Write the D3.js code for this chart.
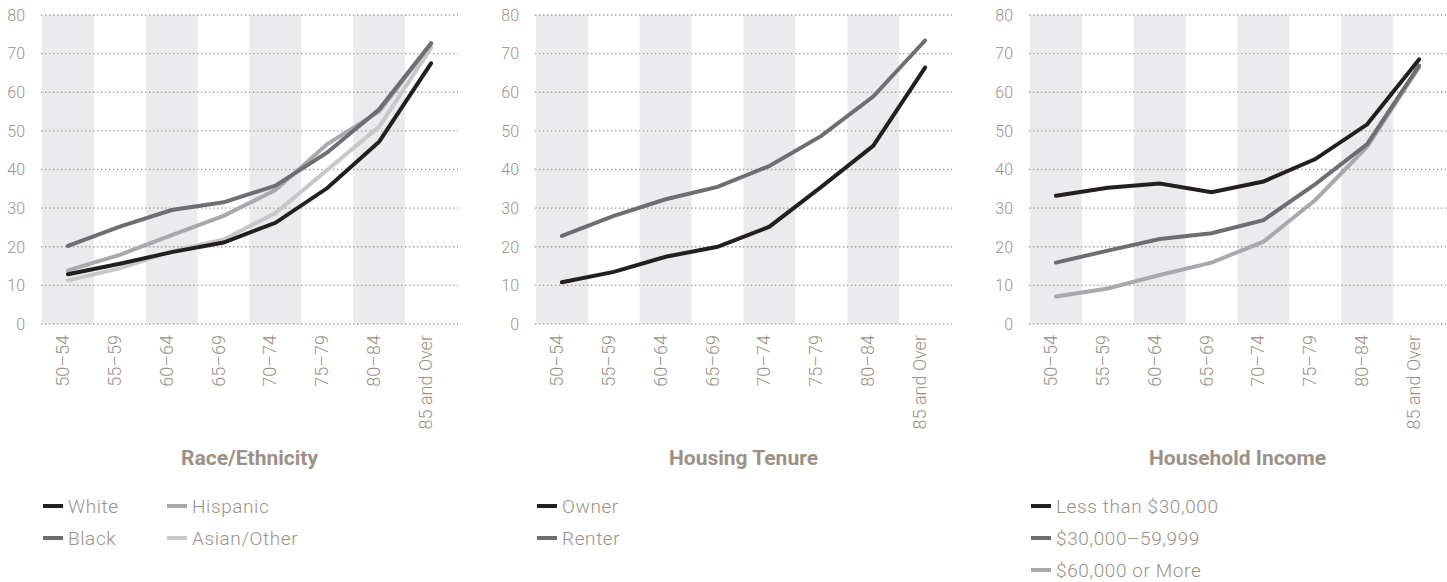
<!DOCTYPE html>
<html>
<head>
<meta charset="utf-8">
<script src="https://cdnjs.cloudflare.com/ajax/libs/d3/7.8.5/d3.min.js"></script>
<style>
  body { margin: 0; background: #fff; }
  svg text { font-family: Roboto, "Noto Sans", sans-serif; fill: #9d9086; }
  .tick-y { font-size: 16px; font-weight: 300; }
  .tick-x { font-size: 18px; font-weight: 300; }
  .title { font-size: 21px; font-weight: 700; }
  .legend { font-size: 19px; font-weight: 300; letter-spacing: 0.6px; }
</style>
</head>
<body>
<svg id="chart"></svg>
<script>
    // Data (percent)
    var ageGroups = ["50–54", "55–59", "60–64", "65–69", "70–74", "75–79", "80–84", "85 and Over"];
    var yTicks = [0, 10, 20, 30, 40, 50, 60, 70, 80];

    var raceWhite      = [12.9, 15.6, 18.6, 21.1, 26.2, 35.2, 47.2, 67.5];
    var raceBlack      = [20.2, 25.2, 29.5, 31.5, 35.8, 44.4, 55.6, 72.7];
    var raceHispanic   = [13.9, 17.9, 23.0, 28.0, 34.7, 46.6, 55.0, 72.5];
    var raceAsianOther = [11.3, 14.4, 18.8, 21.9, 28.7, 39.9, 51.1, 71.5];

    var tenureOwner  = [10.8, 13.5, 17.4, 20.0, 25.2, 35.5, 46.1, 66.4];
    var tenureRenter = [22.8, 28.0, 32.3, 35.5, 40.9, 48.7, 58.9, 73.4];

    var incomeUnder30k = [33.2, 35.3, 36.4, 34.1, 36.9, 42.7, 51.7, 68.5];
    var income30to60k  = [15.9, 19.0, 22.0, 23.5, 26.9, 36.2, 46.6, 66.9];
    var income60kPlus  = [7.1, 9.2, 12.7, 15.9, 21.3, 32.1, 45.9, 66.5];

    // Panels: series listed in legend order, col/row = legend slot
    var panels = [
        { title: "Race/Ethnicity", series: [
            { name: "White", values: raceWhite, color: "#231f20", col: 0, row: 0 },
            { name: "Black", values: raceBlack, color: "#6d6e71", col: 0, row: 1 },
            { name: "Hispanic", values: raceHispanic, color: "#a7a9ac", col: 1, row: 0 },
            { name: "Asian/Other", values: raceAsianOther, color: "#c7c8ca", col: 1, row: 1 }
        ]},
        { title: "Housing Tenure", series: [
            { name: "Owner", values: tenureOwner, color: "#231f20", col: 0, row: 0 },
            { name: "Renter", values: tenureRenter, color: "#6d6e71", col: 0, row: 1 }
        ]},
        { title: "Household Income", series: [
            { name: "Less than $30,000", values: incomeUnder30k, color: "#231f20", col: 0, row: 0 },
            { name: "$30,000–59,999", values: income30to60k, color: "#6d6e71", col: 0, row: 1 },
            { name: "$60,000 or More", values: income60kPlus, color: "#a7a9ac", col: 0, row: 2 }
        ]}
    ];

    var width = 1447;
    var height = 582;
    var panelStep = 494;
    var plotLeft = 41;
    var plotWidth = 417;

    var svg = d3.select("#chart")
        .attr("width", width)
        .attr("height", height);

    var y = d3.scaleLinear().domain([0, 80]).range([324, 15]);

    panels.forEach(function (p, i) {
        var g = svg.append("g")
            .attr("transform", "translate(" + (i * panelStep) + ",0)");

        var x = d3.scaleBand()
            .domain(ageGroups)
            .range([plotLeft + 1, plotLeft + plotWidth - 1]);

        // alternating shaded columns
        g.selectAll("rect.band")
            .data(ageGroups.filter(function (d, j) { return j % 2 === 0; }))
            .enter().append("rect")
            .attr("class", "band")
            .attr("x", function (d) { return x(d); })
            .attr("y", y(80))
            .attr("width", x.bandwidth())
            .attr("height", y(0) - y(80))
            .attr("fill", "#ebebed");

        // dotted gridlines
        g.selectAll("line.grid")
            .data(yTicks)
            .enter().append("line")
            .attr("class", "grid")
            .attr("x1", plotLeft)
            .attr("x2", plotLeft + plotWidth)
            .attr("y1", function (d) { return y(d); })
            .attr("y2", function (d) { return y(d); })
            .attr("stroke", "#a89b8f")
            .attr("stroke-width", 1.4)
            .attr("stroke-dasharray", "1.4,2.6");

        // y tick labels
        g.selectAll("text.tick-y")
            .data(yTicks)
            .enter().append("text")
            .attr("class", "tick-y")
            .attr("x", plotLeft - 16)
            .attr("y", function (d) { return y(d); })
            .attr("dy", "0.36em")
            .attr("text-anchor", "end")
            .text(function (d) { return d; });

        // x tick labels, rotated
        g.selectAll("text.tick-x")
            .data(ageGroups)
            .enter().append("text")
            .attr("class", "tick-x")
            .attr("text-anchor", "end")
            .attr("transform", function (d) {
                return "translate(" + (x(d) + x.bandwidth() / 2 + 1) + "," + (y(0) + 11) + ")rotate(-90)";
            })
            .text(function (d) { return d; });

        // lines, drawn back to front so the first series sits on top
        var line = d3.line()
            .x(function (d, j) { return x(ageGroups[j]) + x.bandwidth() / 2; })
            .y(function (d) { return y(d); });

        g.selectAll("path.series")
            .data(p.series.slice().reverse())
            .enter().append("path")
            .attr("class", "series")
            .attr("d", function (s) { return line(s.values); })
            .attr("fill", "none")
            .attr("stroke", function (s) { return s.color; })
            .attr("stroke-width", 4)
            .attr("stroke-linecap", "round");

        // panel title
        g.append("text")
            .attr("class", "title")
            .attr("x", plotLeft + plotWidth / 2)
            .attr("y", 465)
            .attr("text-anchor", "middle")
            .text(p.title);

        // legend
        var item = g.selectAll("g.legend")
            .data(p.series)
            .enter().append("g")
            .attr("class", "legend")
            .attr("transform", function (s) {
                return "translate(" + (plotLeft + 2 + s.col * 124) + "," + (506 + s.row * 32) + ")";
            });

        item.append("line")
            .attr("x1", 0).attr("x2", 20)
            .attr("stroke", function (s) { return s.color; })
            .attr("stroke-width", 4);

        item.append("text")
            .attr("class", "legend")
            .attr("x", 25)
            .attr("dy", "0.36em")
            .text(function (s) { return s.name; });
    });
</script>
</body>
</html>
